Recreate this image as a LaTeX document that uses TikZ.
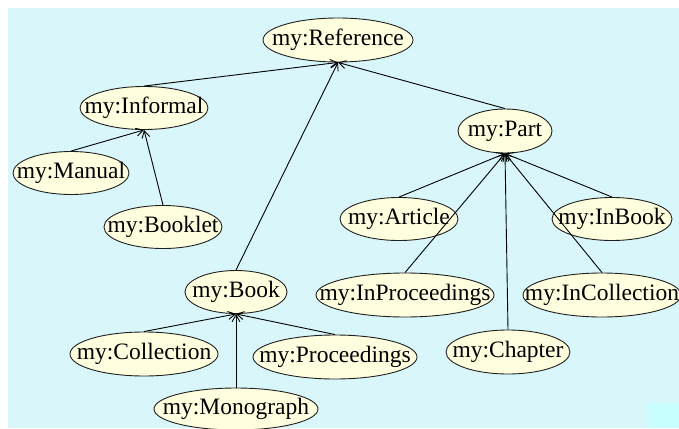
\documentclass[tikz,border=0pt]{standalone}
\usepackage{fontspec}
\setmainfont{Liberation Serif}
\usetikzlibrary{shapes.geometric,arrows.meta}
\definecolor{canvas}{HTML}{D9F7FB}
\definecolor{corner}{HTML}{C8FDFF}
\definecolor{classfill}{HTML}{FFFFDF}
\definecolor{classline}{HTML}{202020}
% class label with no width of its own, so the ellipse takes the given size
\newcommand{\clslabel}[1]{\makebox[0pt]{#1}}
\begin{document}
\begin{tikzpicture}[x=1pt,y=-1pt,
  cls/.style={ellipse, draw=classline, line width=0.9pt, fill=classfill,
    inner sep=0pt, font=\fontsize{23.5}{23.5}\selectfont},
  isa/.style={line width=0.9pt, -{Straight Barb[length=7pt,width=8pt]}}]
  % page and canvas
  \fill[white] (0,0) rectangle (679,428);
  \useasboundingbox (0,0) rectangle (679,428);
  \fill[canvas] (8,8) rectangle (679,428);
  \fill[corner] (647,403) rectangle (679,428);

  % classes
  \node[cls, minimum width=150, minimum height=44] (ref)   at (338,40)  {\clslabel{my:Reference}};
  \node[cls, minimum width=128, minimum height=43] (inf)   at (144,108) {\clslabel{my:Informal}};
  \node[cls, minimum width=116, minimum height=43] (man)   at (71,173)  {\clslabel{my:Manual}};
  \node[cls, minimum width=118, minimum height=43] (bkl)   at (163,227) {\clslabel{my:Booklet}};
  \node[cls, minimum width=102, minimum height=43] (book)  at (236,292) {\clslabel{my:Book}};
  \node[cls, minimum width=148, minimum height=44] (coll)  at (144,354) {\clslabel{my:Collection}};
  \node[cls, minimum width=164, minimum height=44] (proc)  at (335,357) {\clslabel{my:Proceedings}};
  \node[cls, minimum width=164, minimum height=42] (mono)  at (236,409) {\clslabel{my:Monograph}};
  \node[cls, minimum width=94,  minimum height=44] (part)  at (505,131) {\clslabel{my:Part}};
  \node[cls, minimum width=118, minimum height=43] (art)   at (399,219) {\clslabel{my:Article}};
  \node[cls, minimum width=120, minimum height=43] (inbk)  at (612,219) {\clslabel{my:InBook}};
  \node[cls, minimum width=178, minimum height=44] (inpr)  at (405,295) {\clslabel{my:InProceedings}};
  \node[cls, minimum width=158, minimum height=44] (incol) at (602,295) {\clslabel{my:InCollection}};
  \node[cls, minimum width=124, minimum height=44] (chap)  at (508,352) {\clslabel{my:Chapter}};

  % subclass links
  \draw[isa] (inf.north)   -- (ref.south);
  \draw[isa] (book.north)  -- (ref.south);
  \draw[isa] (part.north)  -- (ref.south);
  \draw[isa] (man.north)   -- (inf.south);
  \draw[isa] (bkl.north)   -- (inf.south);
  \draw[isa] (coll.north)  -- (book.south);
  \draw[isa] (proc.north)  -- (book.south);
  \draw[isa] (mono.north)  -- (book.south);
  \draw[isa] (art.north)   -- (part.south);
  \draw[isa] (inbk.north)  -- (part.south);
  \draw[isa] (inpr.north)  -- (part.south);
  \draw[isa] (incol.north) -- (part.south);
  \draw[isa] (chap.north)  -- (part.south);
\end{tikzpicture}
\end{document}
